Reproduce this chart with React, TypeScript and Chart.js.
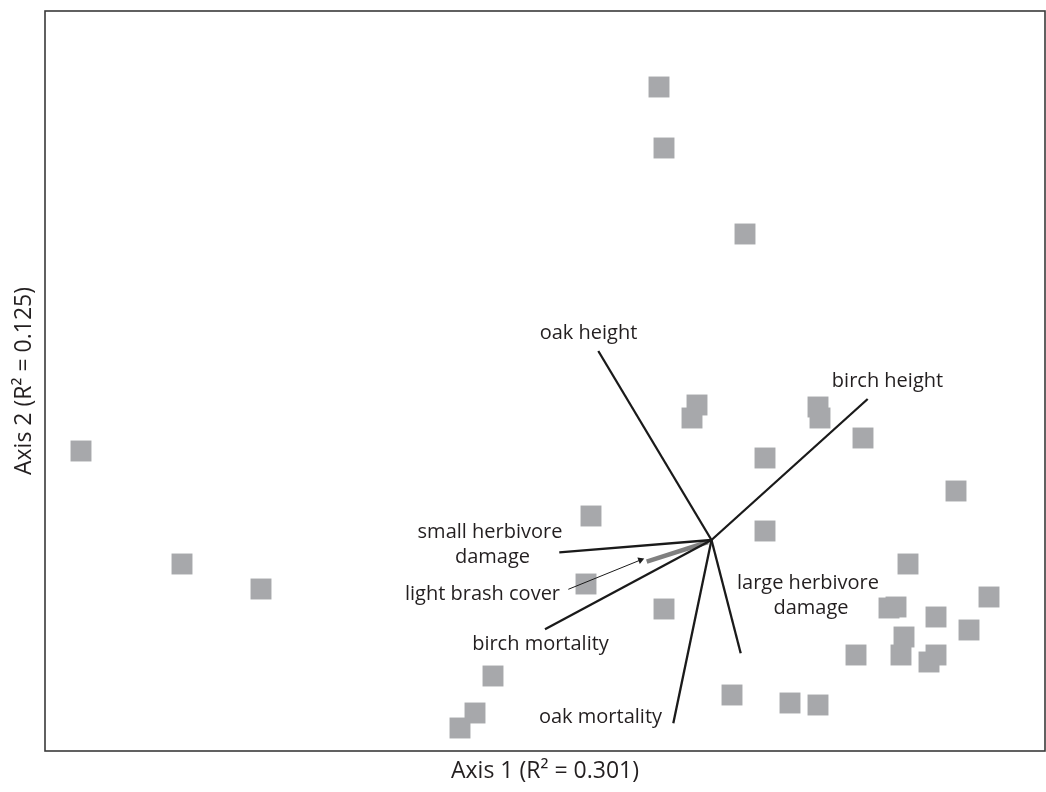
import React, { useEffect, useRef } from "react";
import { Chart, registerables } from "chart.js";

Chart.register(...registerables);

// Site scores (ordination units)
const siteX = [614, 619, 700, 36, 137, 216, 652, 647, 773, 775, 818, 720, 911, 546, 720, 863, 541, 619, 844, 851, 944, 891, 924, 859, 811, 856, 891, 884, 448, 687, 745, 773, 430, 415];
const siteY = [664, 603, 517, 300, 187, 162, 346, 333, 344, 333, 313, 293, 260, 235, 220, 187, 167, 142, 143, 144, 154, 134, 121, 114, 96, 96, 96, 89, 75, 56, 48, 46, 38, 23];

// Vector origin and ends
const originX = 666.5;
const originY = 211;
const vectorNames = ["oak height", "birch height", "small herbivore damage", "birch mortality", "oak mortality", "large herbivore damage"];
const vectorEndX = [553.3, 822.7, 514.3, 500, 628.3, 695.7];
const vectorEndY = [400, 352, 198.7, 121.7, 27.7, 97.7];

// light brash cover (short grey vector)
const brashX = [601.7, 663];
const brashY = [189.3, 209];

// pointer arrow to light brash cover
const arrowX = [523.3, 595.5];
const arrowY = [161.7, 191];

// Text labels (centre x, baseline y)
const labelText = ["oak height", "birch height", "small herbivore", "damage", "light brash cover", "birch mortality", "oak mortality", "large herbivore", "damage"];
const labelX = [543.5, 842.5, 445, 447.5, 437.5, 495.5, 555.5, 763, 766];
const labelY = [411.7, 364.3, 212.7, 188.3, 151, 101, 28.3, 161.7, 137];

const xTitle = "Axis 1 (R\u00B2 = 0.301)";
const yTitle = "Axis 2 (R\u00B2 = 0.125)";

const FONT = "'Open Sans', 'DejaVu Sans', sans-serif";

export default function App() {
  const ref = useRef<HTMLCanvasElement | null>(null);

  useEffect(() => {
    if (!ref.current) return;

    const frame = {
      id: "frame",
      afterDatasetsDraw(chart: any) {
        const { ctx, chartArea } = chart;
        ctx.save();
        ctx.strokeStyle = "#3a3a3a";
        ctx.lineWidth = 1.6;
        ctx.strokeRect(chartArea.left, chartArea.top, chartArea.right - chartArea.left, chartArea.bottom - chartArea.top);
        ctx.restore();
      },
    };

    const labels = {
      id: "vectorLabels",
      afterDatasetsDraw(chart: any) {
        const { ctx } = chart;
        const xs = chart.scales.x;
        const ys = chart.scales.y;
        ctx.save();
        ctx.fillStyle = "#231f20";
        ctx.font = `20px ${FONT}`;
        ctx.textAlign = "center";
        ctx.textBaseline = "alphabetic";
        labelText.forEach((t, i) => {
          ctx.fillText(t, xs.getPixelForValue(labelX[i]), ys.getPixelForValue(labelY[i]));
        });
        ctx.restore();
      },
    };

    const vectorSets = vectorNames.map((name, i) => ({
      label: name,
      data: [
        { x: originX, y: originY },
        { x: vectorEndX[i], y: vectorEndY[i] },
      ],
      showLine: true,
      borderColor: "#1a1a1a",
      borderWidth: 2.3,
      pointRadius: 0,
      order: 1,
    }));

    const chart = new Chart(ref.current, {
      type: "scatter",
      data: {
        datasets: [
          {
            label: "sites",
            data: siteX.map((x, i) => ({ x, y: siteY[i] })),
            pointStyle: "rect",
            pointRadius: 14.8,
            pointHoverRadius: 14.8,
            backgroundColor: "#a7a8ab",
            borderWidth: 0,
            order: 3,
          },
          ...vectorSets,
          {
            label: "light brash cover",
            data: brashX.map((x, i) => ({ x, y: brashY[i] })),
            showLine: true,
            borderColor: "#808080",
            borderWidth: 4.5,
            pointRadius: 0,
            order: 2,
          },
          {
            label: "pointer",
            data: arrowX.map((x, i) => ({ x, y: arrowY[i] })),
            showLine: true,
            borderColor: "#1a1a1a",
            backgroundColor: "#1a1a1a",
            borderWidth: 1,
            pointRadius: [0, 4],
            pointStyle: "triangle",
            pointRotation: [0, 69.3],
            pointBorderWidth: 0,
            order: 1,
          },
        ],
      },
      options: {
        animation: false,
        responsive: false,
        events: [],
        layout: { autoPadding: false, padding: { left: 0, top: 11, right: 1, bottom: 0 } },
        plugins: {
          legend: { display: false },
          tooltip: { enabled: false },
          title: { display: false },
        },
        scales: {
          x: {
            type: "linear",
            min: 0,
            max: 1000,
            ticks: { display: false },
            grid: { display: false, drawTicks: false, tickLength: 0 },
            border: { display: false },
            title: {
              display: true,
              text: xTitle,
              color: "#231f20",
              font: { family: FONT, size: 23 },
              padding: { top: 6.2, bottom: 7.2 },
            },
          },
          y: {
            type: "linear",
            min: 0,
            max: 740,
            ticks: { display: false },
            grid: { display: false, drawTicks: false, tickLength: 0 },
            border: { display: false },
            title: {
              display: true,
              text: yTitle,
              color: "#231f20",
              font: { family: FONT, size: 23 },
              padding: { top: 10.7, bottom: 6.7 },
            },
          },
        },
      },
      plugins: [frame, labels],
    });

    return () => chart.destroy();
  }, []);

  return (
    <div style={{ position: "absolute", left: 0, top: 0, width: 1046, height: 792, background: "#fff" }}>
      <canvas ref={ref} width={1046} height={792} style={{ display: "block" }} />
    </div>
  );
}
